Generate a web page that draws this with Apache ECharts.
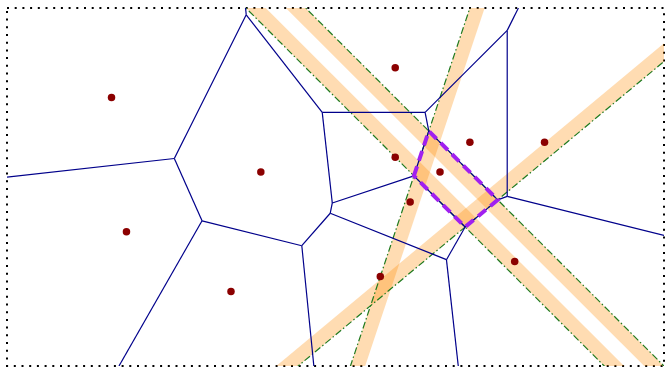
<!DOCTYPE html>
<html>
<head>
<meta charset="utf-8">
<script src="https://cdn.jsdelivr.net/npm/echarts@6/dist/echarts.min.js"></script>
<style>
  html, body { margin: 0; padding: 0; background: #fff; }
  #chart { width: 665px; height: 367px; }
</style>
</head>
<body>
<div id="chart"></div>
<script>
// Sites of the Voronoi diagram (x to the right, y downward)
const siteX = [7, 17, 8, 15, 26, 26, 31, 36, 29, 27, 25, 34];
const siteY = [6, 11, 15, 19, 4, 10, 9, 9, 11, 13, 18, 17];
// Site whose cell is built as an intersection of half-planes
const focusSite = 8;
// Extent of the diagram
const xExtent = [0, 44];
const yExtent = [0, 24];

// Half-plane "closer to site i than to site j":  a*x + b*y <= c
function bisector(i, j) {
  return {
    a: 2 * (siteX[j] - siteX[i]),
    b: 2 * (siteY[j] - siteY[i]),
    c: siteX[j] * siteX[j] + siteY[j] * siteY[j] - siteX[i] * siteX[i] - siteY[i] * siteY[i]
  };
}

// Voronoi cell of site i: the box clipped by every bisector half-plane.
// Each vertex carries the index of the site whose bisector forms the edge
// that starts at it (-1 for the box border).
function cellOf(i) {
  let poly = [
    { p: [xExtent[0], yExtent[0]], e: -1 },
    { p: [xExtent[1], yExtent[0]], e: -1 },
    { p: [xExtent[1], yExtent[1]], e: -1 },
    { p: [xExtent[0], yExtent[1]], e: -1 }
  ];
  for (let j = 0; j < siteX.length; j++) {
    if (j === i) continue;
    const h = bisector(i, j);
    const out = [];
    for (let k = 0; k < poly.length; k++) {
      const cur = poly[k], nxt = poly[(k + 1) % poly.length];
      const fc = h.a * cur.p[0] + h.b * cur.p[1] - h.c;
      const fn = h.a * nxt.p[0] + h.b * nxt.p[1] - h.c;
      const inC = fc <= 1e-9, inN = fn <= 1e-9;
      if (inC) out.push({ p: cur.p, e: cur.e });
      if (inC !== inN) {
        const t = fc / (fc - fn);
        const ip = [cur.p[0] + t * (nxt.p[0] - cur.p[0]), cur.p[1] + t * (nxt.p[1] - cur.p[1])];
        out.push({ p: ip, e: inC ? j : cur.e });
      }
    }
    poly = out;
  }
  return poly;
}

const cells = siteX.map((_, i) => cellOf(i));

// Voronoi edges, each shared edge listed once
const edgeData = [];
cells.forEach((cell, i) => {
  cell.forEach((v, k) => {
    if (v.e > i) {
      const w = cell[(k + 1) % cell.length];
      edgeData.push([v.p[0], v.p[1], w.p[0], w.p[1]]);
    }
  });
});

// Bisector lines bounding the focus cell, each with the focus site
const focusCell = cells[focusSite];
const lineData = [];
focusCell.forEach(v => {
  if (v.e < 0) return;
  const h = bisector(focusSite, v.e);
  let p1, p2;
  if (Math.abs(h.b) > Math.abs(h.a)) {
    const x1 = xExtent[0] - 3, x2 = xExtent[1] + 3;
    p1 = [x1, (h.c - h.a * x1) / h.b];
    p2 = [x2, (h.c - h.a * x2) / h.b];
  } else {
    const y1 = yExtent[0] - 3, y2 = yExtent[1] + 3;
    p1 = [(h.c - h.b * y1) / h.a, y1];
    p2 = [(h.c - h.b * y2) / h.a, y2];
  }
  lineData.push([p1[0], p1[1], p2[0], p2[1], siteX[focusSite], siteY[focusSite]]);
});

const focusPolygon = focusCell.map(v => v.p);
const sitePoints = siteX.map((x, i) => [x, siteY[i]]);

const STRIP_WIDTH = 14;

const chart = echarts.init(document.getElementById('chart'), null, { renderer: 'canvas' });
chart.setOption({
  animation: false,
  backgroundColor: '#fff',
  grid: {
    show: true,
    left: 7, top: 8, width: 657, height: 358,
    borderColor: '#000',
    borderWidth: 2,
    borderType: [2, 5.7],
    backgroundColor: 'transparent'
  },
  xAxis: {
    type: 'value', min: xExtent[0], max: xExtent[1],
    axisLine: { show: false }, axisTick: { show: false },
    axisLabel: { show: false }, splitLine: { show: false }
  },
  yAxis: {
    type: 'value', inverse: true, min: yExtent[0], max: yExtent[1],
    axisLine: { show: false }, axisTick: { show: false },
    axisLabel: { show: false }, splitLine: { show: false }
  },
  series: [
    {
      // shaded side of each bounding half-plane
      type: 'custom',
      clip: true,
      z: 1,
      silent: true,
      data: lineData,
      renderItem: function (params, api) {
        const p1 = api.coord([api.value(0), api.value(1)]);
        const p2 = api.coord([api.value(2), api.value(3)]);
        const s = api.coord([api.value(4), api.value(5)]);
        const dx = p2[0] - p1[0], dy = p2[1] - p1[1];
        const len = Math.hypot(dx, dy);
        let nx = -dy / len, ny = dx / len;
        if ((s[0] - p1[0]) * nx + (s[1] - p1[1]) * ny < 0) { nx = -nx; ny = -ny; }
        return {
          type: 'polygon',
          shape: {
            points: [
              p1, p2,
              [p2[0] + nx * STRIP_WIDTH, p2[1] + ny * STRIP_WIDTH],
              [p1[0] + nx * STRIP_WIDTH, p1[1] + ny * STRIP_WIDTH]
            ]
          },
          style: { fill: 'rgba(255,140,0,0.3)', stroke: null }
        };
      }
    },
    {
      // bisector lines
      type: 'custom',
      clip: true,
      z: 2,
      silent: true,
      data: lineData,
      renderItem: function (params, api) {
        const p1 = api.coord([api.value(0), api.value(1)]);
        const p2 = api.coord([api.value(2), api.value(3)]);
        return {
          type: 'line',
          shape: { x1: p1[0], y1: p1[1], x2: p2[0], y2: p2[1] },
          style: { stroke: '#1f7a1f', lineWidth: 1.2, lineDash: [7, 2.5, 1.5, 2.5], fill: null }
        };
      }
    },
    {
      // Voronoi edges
      type: 'custom',
      clip: true,
      z: 3,
      silent: true,
      data: edgeData,
      renderItem: function (params, api) {
        const p1 = api.coord([api.value(0), api.value(1)]);
        const p2 = api.coord([api.value(2), api.value(3)]);
        return {
          type: 'line',
          shape: { x1: p1[0], y1: p1[1], x2: p2[0], y2: p2[1] },
          style: { stroke: '#00008b', lineWidth: 1.2, fill: null }
        };
      }
    },
    {
      // outline of the focus cell
      type: 'custom',
      clip: true,
      z: 4,
      silent: true,
      data: [0],
      renderItem: function (params, api) {
        const pts = focusPolygon.map(p => api.coord(p));
        return {
          type: 'polygon',
          shape: { points: pts },
          style: { fill: null, stroke: '#a020f0', lineWidth: 4, lineDash: [10, 6] }
        };
      }
    },
    {
      type: 'scatter',
      z: 5,
      symbol: 'circle',
      symbolSize: 7.5,
      itemStyle: { color: '#8b0000', opacity: 1 },
      data: sitePoints
    }
  ]
});
</script>
</body>
</html>
